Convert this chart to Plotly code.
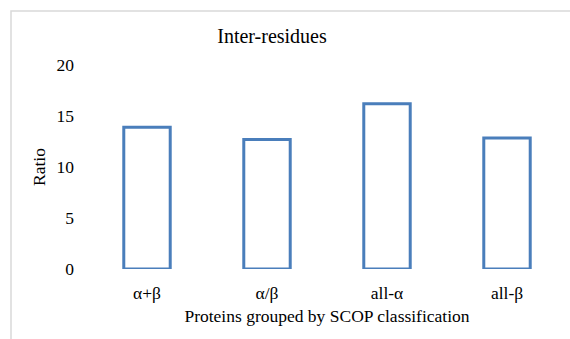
import plotly.graph_objects as go

categories = ["α+β", "α/β", "all-α", "all-β"]
ratios = [13.9, 12.7, 16.2, 12.85]
y_ticks = [0, 5, 10, 15, 20]

W, H = 570, 339
L, R, T, B = 87, 3, 65, 70
pw, ph = W - L - R, H - T - B

def px_x(p):
    return (p - L) / pw

def px_y(p):
    return (H - B - p) / ph

font = "Liberation Serif, Times New Roman, serif"
fs = 17.5

fig = go.Figure(
    go.Bar(
        x=categories,
        y=ratios,
        width=0.387,
        marker=dict(color="rgba(255,255,255,0)", line=dict(color="#4A7EBB", width=3)),
    )
)

fig.update_layout(
    width=W,
    height=H,
    margin=dict(l=L, r=R, t=T, b=B),
    paper_bgcolor="white",
    plot_bgcolor="white",
    showlegend=False,
    font=dict(family=font, size=fs, color="#000000"),
    title=dict(
        text="Inter-residues",
        font=dict(family=font, size=20, color="#000000"),
        x=px_x(272),
        xref="paper",
        xanchor="center",
        y=1 - 36 / H,
        yref="container",
        yanchor="middle",
    ),
    xaxis=dict(
        showgrid=False,
        showline=False,
        zeroline=False,
        ticks="",
        ticklabelstandoff=11,
        tickfont=dict(family=font, size=fs),
        title=dict(text="Proteins grouped by SCOP classification", font=dict(family=font, size=fs), standoff=8),
    ),
    yaxis=dict(
        range=[0, 20],
        tickvals=y_ticks,
        showgrid=False,
        showline=False,
        zeroline=False,
        ticks="",
        ticklabelstandoff=12,
        tickfont=dict(family=font, size=fs),
        title=dict(text="Ratio", font=dict(family=font, size=fs), standoff=6),
    ),
    shapes=[
        dict(
            type="rect",
            xref="paper",
            yref="paper",
            x0=px_x(11),
            x1=px_x(W + 20),
            y0=px_y(H + 20),
            y1=px_y(11),
            line=dict(color="#D9D9D9", width=1.5),
            fillcolor="rgba(0,0,0,0)",
            layer="below",
        )
    ],
)

fig.write_html("out.html")
